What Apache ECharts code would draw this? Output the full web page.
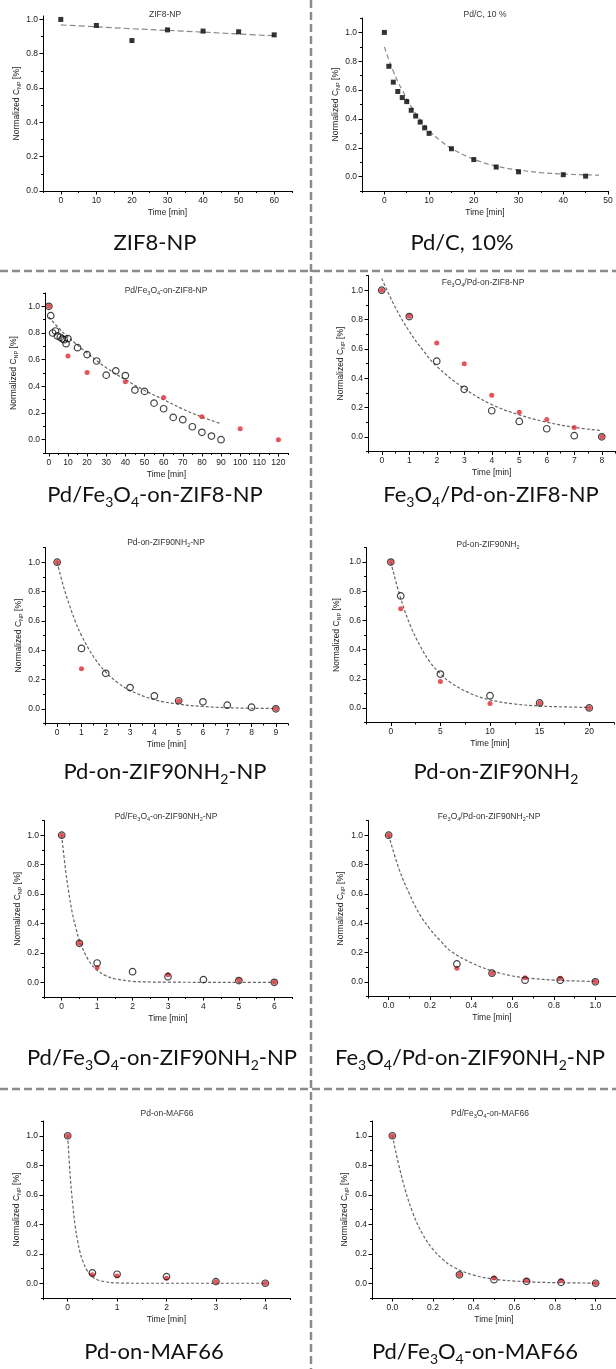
<!DOCTYPE html>
<html><head><meta charset="utf-8">
<script src="https://cdn.jsdelivr.net/npm/echarts@6/dist/echarts.min.js"></script>
<style>html,body{margin:0;padding:0;background:#fff}#c{width:616px;height:1369px}</style>
</head><body><div id="c"></div>
<script>
// ---------- DATA ----------
// Panel 1: ZIF8-NP
const zif8Time = [0, 10, 20, 30, 40, 50, 60];
const zif8Conc = [1.0, 0.965, 0.877, 0.939, 0.932, 0.928, 0.91];
const zif8FitTime = [0, 10, 20, 30, 40, 50, 60];
const zif8FitConc = [0.968, 0.957, 0.946, 0.936, 0.926, 0.915, 0.905];
const zif8XTicks = [0, 10, 20, 30, 40, 50, 60];
const zif8XMinor = [-5, 5, 15, 25, 35, 45, 55, 65];

// Panel 2: Pd/C, 10 %
const pdcTime = [0, 1, 2, 3, 4, 5, 6, 7, 8, 9, 10, 15, 20, 25, 30, 40, 45];
const pdcConc = [1.0, 0.765, 0.655, 0.59, 0.548, 0.52, 0.46, 0.42, 0.378, 0.338, 0.3, 0.193, 0.118, 0.066, 0.033, 0.013, 0.003];
const pdcFitTime = [0, 1, 2, 3, 4, 6, 8, 10, 12.5, 15, 20, 25, 30, 35, 40, 45, 48];
const pdcFitConc = [0.9, 0.81, 0.73, 0.66, 0.6, 0.485, 0.395, 0.32, 0.25, 0.195, 0.12, 0.073, 0.045, 0.028, 0.018, 0.012, 0.01];
const pdcXTicks = [0, 10, 20, 30, 40, 50];
const pdcXMinor = [-5, 5, 15, 25, 35, 45];

// Panel 3: Pd/Fe3O4-on-ZIF8-NP
const p3CircTime = [0, 1, 2, 3.5, 4.5, 6, 7, 8, 9, 10, 15, 20, 25, 30, 35, 40, 45, 50, 55, 60, 65, 70, 75, 80, 85, 90];
const p3CircConc = [1.0, 0.93, 0.80, 0.815, 0.778, 0.768, 0.756, 0.75, 0.72, 0.758, 0.69, 0.638, 0.59, 0.484, 0.516, 0.481, 0.372, 0.362, 0.274, 0.232, 0.167, 0.15, 0.097, 0.055, 0.027, 0.0];
const p3RedTime = [0, 10, 20, 40, 60, 80, 100, 120];
const p3RedConc = [1.0, 0.628, 0.504, 0.434, 0.317, 0.172, 0.082, 0.0];
const p3FitTime = [0, 5, 10, 20, 30, 40, 50, 60, 70, 80, 90];
const p3FitConc = [0.92, 0.84, 0.77, 0.65, 0.54, 0.45, 0.37, 0.30, 0.23, 0.17, 0.12];
const p3XTicks = [0, 10, 20, 30, 40, 50, 60, 70, 80, 90, 100, 110, 120];
const p3XMinor = [5, 15, 25, 35, 45, 55, 65, 75, 85, 95, 105, 115, 125];

// Panel 4: Fe3O4/Pd-on-ZIF8-NP
const p4CircTime = [0, 1, 2, 3, 4, 5, 6, 7, 8];
const p4CircConc = [1.0, 0.82, 0.516, 0.324, 0.178, 0.105, 0.055, 0.008, 0.0];
const p4RedTime = [0, 1, 2, 3, 4, 5, 6, 7, 8];
const p4RedConc = [1.0, 0.822, 0.64, 0.498, 0.283, 0.167, 0.119, 0.064, 0.0];
const p4FitTime = [0, 0.5, 1, 1.5, 2, 3, 4, 5, 6, 7, 8];
const p4FitConc = [1.08, 0.88, 0.72, 0.59, 0.48, 0.33, 0.22, 0.15, 0.1, 0.065, 0.042];
const p4XTicks = [0, 1, 2, 3, 4, 5, 6, 7, 8];
const p4XMinor = [-0.5, 0.5, 1.5, 2.5, 3.5, 4.5, 5.5, 6.5, 7.5, 8.5];

// Panel 5: Pd-on-ZIF90NH2-NP
const p5CircTime = [0, 1, 2, 3, 4, 5, 6, 7, 8, 9];
const p5CircConc = [1.0, 0.412, 0.242, 0.145, 0.088, 0.055, 0.048, 0.025, 0.011, 0.0];
const p5RedTime = [0, 1, 5, 9];
const p5RedConc = [1.0, 0.274, 0.054, 0.0];
const p5FitTime = [0, 0.25, 0.5, 0.75, 1, 1.5, 2, 2.5, 3, 4, 5, 6, 7, 8, 9];
const p5FitConc = [1.0, 0.84, 0.71, 0.595, 0.5, 0.355, 0.25, 0.177, 0.125, 0.063, 0.032, 0.016, 0.008, 0.004, 0.002];
const p5XTicks = [0, 1, 2, 3, 4, 5, 6, 7, 8, 9];
const p5XMinor = [-0.5, 0.5, 1.5, 2.5, 3.5, 4.5, 5.5, 6.5, 7.5, 8.5, 9.5];

// Panel 6: Pd-on-ZIF90NH2
const p6CircTime = [0, 1, 5, 10, 15, 20];
const p6CircConc = [1.0, 0.768, 0.232, 0.084, 0.034, 0.0];
const p6RedTime = [0, 1, 5, 10, 15, 20];
const p6RedConc = [1.0, 0.68, 0.182, 0.03, 0.034, 0.0];
const p6FitTime = [0, 1, 2, 3, 4, 5, 6, 8, 10, 12.5, 15, 17.5, 20];
const p6FitConc = [1.0, 0.75, 0.56, 0.42, 0.31, 0.235, 0.175, 0.1, 0.055, 0.027, 0.013, 0.007, 0.003];
const p6XTicks = [0, 5, 10, 15, 20];
const p6XMinor = [-2.5, 2.5, 7.5, 12.5, 17.5, 22.5];

// Panel 7: Pd/Fe3O4-on-ZIF90NH2-NP
const p7CircTime = [0, 0.5, 1, 2, 3, 4, 5, 6];
const p7CircConc = [1.0, 0.265, 0.131, 0.072, 0.038, 0.018, 0.012, 0.0];
const p7RedTime = [0, 0.5, 1, 3, 5, 6];
const p7RedConc = [1.0, 0.265, 0.10, 0.052, 0.016, 0.0];
const p7FitTime = [0, 0.1, 0.2, 0.3, 0.4, 0.5, 0.75, 1, 1.25, 1.5, 2, 2.5, 3, 4, 5, 6];
const p7FitConc = [1.0, 0.78, 0.61, 0.47, 0.37, 0.285, 0.153, 0.082, 0.044, 0.024, 0.007, 0.002, 0.001, 0, 0, 0];
const p7XTicks = [0, 1, 2, 3, 4, 5, 6];
const p7XMinor = [-0.5, 0.5, 1.5, 2.5, 3.5, 4.5, 5.5, 6.5];

// Panel 8: Fe3O4/Pd-on-ZIF90NH2-NP
const p8CircTime = [0, 0.33, 0.5, 0.66, 0.83, 1.0];
const p8CircConc = [1.0, 0.122, 0.059, 0.011, 0.011, 0.0];
const p8RedTime = [0, 0.33, 0.5, 0.66, 0.83, 1.0];
const p8RedConc = [1.0, 0.093, 0.059, 0.027, 0.025, 0.0];
const p8FitTime = [0, 0.05, 0.1, 0.15, 0.2, 0.25, 0.3, 0.4, 0.5, 0.6, 0.7, 0.8, 0.9, 1.0];
const p8FitConc = [1.0, 0.77, 0.6, 0.46, 0.36, 0.28, 0.21, 0.13, 0.075, 0.04, 0.022, 0.012, 0.006, 0.003];
const p8XTicks = [0, 0.2, 0.4, 0.6, 0.8, 1.0];
const p8XMinor = [-0.1, 0.1, 0.3, 0.5, 0.7, 0.9, 1.1];

// Panel 9: Pd-on-MAF66
const p9CircTime = [0, 0.5, 1, 2, 3, 4];
const p9CircConc = [1.0, 0.07, 0.061, 0.045, 0.011, 0.0];
const p9RedTime = [0, 0.5, 1, 2, 3, 4];
const p9RedConc = [1.0, 0.057, 0.05, 0.034, 0.011, 0.0];
const p9FitTime = [0, 0.05, 0.1, 0.15, 0.2, 0.25, 0.3, 0.4, 0.5, 0.6, 0.75, 1, 1.5, 2, 3, 4];
const p9FitConc = [1.0, 0.73, 0.54, 0.39, 0.29, 0.21, 0.155, 0.082, 0.044, 0.024, 0.01, 0.002, 0, 0, 0, 0];
const p9XTicks = [0, 1, 2, 3, 4];
const p9XMinor = [-0.5, 0.5, 1.5, 2.5, 3.5, 4.5];

// Panel 10: Pd/Fe3O4-on-MAF66
const p10CircTime = [0, 0.33, 0.5, 0.66, 0.83, 1.0];
const p10CircConc = [1.0, 0.057, 0.024, 0.013, 0.006, 0.0];
const p10RedTime = [0, 0.33, 0.5, 0.66, 0.83, 1.0];
const p10RedConc = [1.0, 0.057, 0.036, 0.018, 0.017, 0.0];
const p10FitTime = [0, 0.05, 0.1, 0.15, 0.2, 0.25, 0.3, 0.4, 0.5, 0.6, 0.7, 0.8, 1.0];
const p10FitConc = [1.0, 0.7, 0.48, 0.33, 0.23, 0.16, 0.11, 0.055, 0.028, 0.015, 0.008, 0.004, 0.001];
const p10XTicks = [0, 0.2, 0.4, 0.6, 0.8, 1.0];
const p10XMinor = [-0.1, 0.1, 0.3, 0.5, 0.7, 0.9, 1.1];

// common y ticks
const yTicks = [0, 0.2, 0.4, 0.6, 0.8, 1.0];
const yMinor = [-0.1, 0.1, 0.3, 0.5, 0.7, 0.9, 1.1];

const panelTitles = [
  'ZIF8-NP', 'Pd/C, 10 %',
  'Pd/Fe{s|3}O{s|4}-on-ZIF8-NP', 'Fe{s|3}O{s|4}/Pd-on-ZIF8-NP',
  'Pd-on-ZIF90NH{s|2}-NP', 'Pd-on-ZIF90NH{s|2}',
  'Pd/Fe{s|3}O{s|4}-on-ZIF90NH{s|2}-NP', 'Fe{s|3}O{s|4}/Pd-on-ZIF90NH{s|2}-NP',
  'Pd-on-MAF66', 'Pd/Fe{s|3}O{s|4}-on-MAF66'
];
const captions = [
  'ZIF8-NP', 'Pd/C, 10%',
  'Pd/Fe{s|3}O{s|4}-on-ZIF8-NP', 'Fe{s|3}O{s|4}/Pd-on-ZIF8-NP',
  'Pd-on-ZIF90NH{s|2}-NP', 'Pd-on-ZIF90NH{s|2}',
  'Pd/Fe{s|3}O{s|4}-on-ZIF90NH{s|2}-NP', 'Fe{s|3}O{s|4}/Pd-on-ZIF90NH{s|2}-NP',
  'Pd-on-MAF66', 'Pd/Fe{s|3}O{s|4}-on-MAF66'
];

// ---------- LAYOUT ----------
const FONT = '"Liberation Sans", Arial, sans-serif';
const CAPFONT = 'Lato, "Open Sans", sans-serif';
const layouts = [
  {left: 43, top: 16, width: 249, height: 175, xMin: -5, xMax: 65, yMin: 0, yMax: 1.02, yGap: 20, tx: 165, ty: 15, cx: 155, cy: 243},
  {left: 362, top: 18, width: 246, height: 173, xMin: -5, xMax: 50, yMin: -0.1, yMax: 1.1, yGap: 20, tx: 485, ty: 15, cx: 462, cy: 243},
  {left: 45, top: 293, width: 243, height: 160, xMin: -2, xMax: 125, yMin: -0.1, yMax: 1.1, yGap: 26, tx: 166, ty: 291, cx: 155, cy: 495},
  {left: 368, top: 275.5, width: 247.5, height: 176, xMin: -0.5, xMax: 8.5, yMin: -0.1, yMax: 1.1, yGap: 22, tx: 483, ty: 283, cx: 491, cy: 495},
  {left: 45, top: 547.5, width: 243, height: 176, xMin: -0.5, xMax: 9.5, yMin: -0.1, yMax: 1.1, yGap: 20, tx: 166, ty: 543, cx: 165, cy: 772},
  {left: 366, top: 547.5, width: 248, height: 175, xMin: -2.5, xMax: 22.5, yMin: -0.1, yMax: 1.1, yGap: 24, tx: 488, ty: 545, cx: 496, cy: 772},
  {left: 44, top: 820.5, width: 248, height: 176.5, xMin: -0.5, xMax: 6.5, yMin: -0.1, yMax: 1.1, yGap: 21, tx: 166, ty: 817, cx: 162, cy: 1058},
  {left: 368, top: 820.5, width: 248, height: 176, xMin: -0.1, xMax: 1.1, yMin: -0.1, yMax: 1.1, yGap: 22, tx: 489, ty: 817, cx: 470, cy: 1058},
  {left: 43, top: 1121, width: 247, height: 177, xMin: -0.5, xMax: 4.5, yMin: -0.1, yMax: 1.1, yGap: 21, tx: 167, ty: 1114, cx: 154, cy: 1352},
  {left: 372, top: 1121, width: 248, height: 177, xMin: -0.1, xMax: 1.1, yMin: -0.1, yMax: 1.1, yGap: 22, tx: 490, ty: 1114, cx: 475, cy: 1352}
];

const zip = (a, b) => a.map((v, i) => [v, b[i]]);

const panels = [
  {sq: [zif8Time, zif8Conc], fit: [zif8FitTime, zif8FitConc], xt: zif8XTicks, xm: zif8XMinor, dash: [6, 3], fitColor: '#8a8a8a'},
  {sq: [pdcTime, pdcConc], fit: [pdcFitTime, pdcFitConc], xt: pdcXTicks, xm: pdcXMinor, dash: [5, 3], fitColor: '#8a8a8a'},
  {circ: [p3CircTime, p3CircConc], red: [p3RedTime, p3RedConc], fit: [p3FitTime, p3FitConc], xt: p3XTicks, xm: p3XMinor},
  {circ: [p4CircTime, p4CircConc], red: [p4RedTime, p4RedConc], fit: [p4FitTime, p4FitConc], xt: p4XTicks, xm: p4XMinor},
  {circ: [p5CircTime, p5CircConc], red: [p5RedTime, p5RedConc], fit: [p5FitTime, p5FitConc], xt: p5XTicks, xm: p5XMinor},
  {circ: [p6CircTime, p6CircConc], red: [p6RedTime, p6RedConc], fit: [p6FitTime, p6FitConc], xt: p6XTicks, xm: p6XMinor},
  {circ: [p7CircTime, p7CircConc], red: [p7RedTime, p7RedConc], fit: [p7FitTime, p7FitConc], xt: p7XTicks, xm: p7XMinor},
  {circ: [p8CircTime, p8CircConc], red: [p8RedTime, p8RedConc], fit: [p8FitTime, p8FitConc], xt: p8XTicks, xm: p8XMinor, dec: true},
  {circ: [p9CircTime, p9CircConc], red: [p9RedTime, p9RedConc], fit: [p9FitTime, p9FitConc], xt: p9XTicks, xm: p9XMinor},
  {circ: [p10CircTime, p10CircConc], red: [p10RedTime, p10RedConc], fit: [p10FitTime, p10FitConc], xt: p10XTicks, xm: p10XMinor, dec: true}
];

const grids = [], xAxes = [], yAxes = [], series = [], graphics = [];
const labelStyle = {fontSize: 8.5, fontFamily: FONT, color: '#222'};

panels.forEach((p, i) => {
  const L = layouts[i];
  grids.push({left: L.left, top: L.top, width: L.width, height: L.height});
  const xi = xAxes.length, yi = yAxes.length;
  xAxes.push({
    type: 'value', gridIndex: i, position: 'bottom', min: L.xMin, max: L.xMax,
    name: 'Time [min]', nameLocation: 'middle', nameGap: 17, nameTextStyle: labelStyle,
    axisLine: {show: true, onZero: false, lineStyle: {color: '#000', width: 1}},
    axisTick: {show: true, customValues: p.xt, length: 3.5, lineStyle: {color: '#000', width: 1}},
    axisLabel: Object.assign({show: true, customValues: p.xt, margin: 5, formatter: v => p.dec ? v.toFixed(1) : String(Math.round(v))}, labelStyle),
    splitLine: {show: false}
  });
  xAxes.push({
    type: 'value', gridIndex: i, position: 'bottom', min: L.xMin, max: L.xMax,
    axisLine: {show: false, onZero: false}, axisLabel: {show: false}, splitLine: {show: false},
    axisTick: {show: true, customValues: p.xm, length: 2, lineStyle: {color: '#000', width: 1}}
  });
  yAxes.push({
    type: 'value', gridIndex: i, position: 'left', min: L.yMin, max: L.yMax,
    name: 'Normalized C{s|NP} [%]', nameLocation: 'middle', nameGap: L.yGap, nameRotate: 90,
    nameTextStyle: Object.assign({lineHeight: 11, rich: {s: {fontSize: 5.5, fontFamily: FONT, color: '#222', verticalAlign: 'bottom', lineHeight: 7}}}, labelStyle),
    axisLine: {show: true, onZero: false, lineStyle: {color: '#000', width: 1}},
    axisTick: {show: true, customValues: yTicks, length: 3.5, lineStyle: {color: '#000', width: 1}},
    axisLabel: Object.assign({show: true, customValues: yTicks, margin: 5, formatter: v => v.toFixed(1)}, labelStyle),
    splitLine: {show: false}
  });
  yAxes.push({
    type: 'value', gridIndex: i, position: 'left', min: L.yMin, max: L.yMax,
    axisLine: {show: false, onZero: false}, axisLabel: {show: false}, splitLine: {show: false},
    axisTick: {show: true, customValues: yMinor, length: 2, lineStyle: {color: '#000', width: 1}}
  });
  series.push({
    type: 'line', xAxisIndex: xi, yAxisIndex: yi, data: zip(p.fit[0], p.fit[1]),
    smooth: 0.4, symbol: 'none', silent: true, z: 2,
    lineStyle: {color: p.fitColor || '#666', width: 1.2, type: p.dash || [3, 2]}
  });
  if (p.red) series.push({
    type: 'scatter', xAxisIndex: xi, yAxisIndex: yi, data: zip(p.red[0], p.red[1]),
    symbol: 'circle', symbolSize: 5, z: 3, itemStyle: {color: '#e8262b'}
  });
  if (p.circ) series.push({
    type: 'scatter', xAxisIndex: xi, yAxisIndex: yi, data: zip(p.circ[0], p.circ[1]),
    symbol: 'circle', symbolSize: 6.5, z: 4,
    itemStyle: {color: 'rgba(0,0,0,0)', borderColor: '#111', borderWidth: 1.2}
  });
  if (p.sq) series.push({
    type: 'scatter', xAxisIndex: xi, yAxisIndex: yi, data: zip(p.sq[0], p.sq[1]),
    symbol: 'rect', symbolSize: 5, z: 4, itemStyle: {color: '#000'}
  });
  graphics.push({
    type: 'text', silent: true, z: 10,
    style: {
      x: L.tx, y: L.ty, text: panelTitles[i], align: 'center', verticalAlign: 'middle',
      fontSize: 8.5, fontFamily: FONT, fill: '#333', lineHeight: 11,
      rich: {s: {fontSize: 5.5, fontFamily: FONT, fill: '#333', verticalAlign: 'bottom', lineHeight: 7}}
    }
  });
  graphics.push({
    type: 'text', silent: true, z: 10,
    style: {
      x: L.cx, y: L.cy, text: captions[i], align: 'center', verticalAlign: 'middle',
      fontSize: 22, fontFamily: CAPFONT, fill: '#111', lineHeight: 28,
      rich: {s: {fontSize: 14, fontFamily: CAPFONT, fill: '#111', verticalAlign: 'bottom', lineHeight: 16}}
    }
  });
});

// separators
const sepStyle = {stroke: '#8a8a8a', lineWidth: 2.5, lineDash: [8, 4]};
graphics.push({type: 'line', silent: true, shape: {x1: 311, y1: 0, x2: 311, y2: 1369}, style: sepStyle});
graphics.push({type: 'line', silent: true, shape: {x1: 0, y1: 271, x2: 616, y2: 271}, style: sepStyle});
graphics.push({type: 'line', silent: true, shape: {x1: 0, y1: 1089, x2: 616, y2: 1089}, style: sepStyle});

const chart = echarts.init(document.getElementById('c'), null, {renderer: 'canvas'});
chart.setOption({
  animation: false,
  backgroundColor: '#fff',
  grid: grids, xAxis: xAxes, yAxis: yAxes, series: series, graphic: graphics
});
</script></body></html>
